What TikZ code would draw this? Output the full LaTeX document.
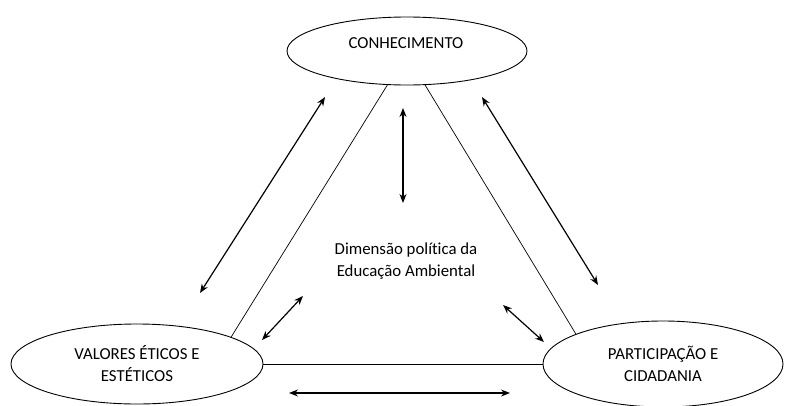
\documentclass[tikz,border=0pt]{standalone}
\usepackage{fontspec}
\setmainfont[Ligatures=NoCommon]{Carlito}
\usepackage{tikz}
\usetikzlibrary{shapes.geometric,arrows.meta}

\tikzset{
	campo/.style={draw, ellipse, line width=0.9pt, inner sep=0pt, align=center, font=\fontsize{16.8}{22}\selectfont},
	rotulo/.style={align=center, inner sep=0pt, font=\fontsize{16.8}{22.5}\selectfont},
	lado/.style={line width=0.7pt},
	seta/.style={line width=1.2pt, {Stealth[length=9pt,width=7pt]}-{Stealth[length=9pt,width=7pt]}}
}

\begin{document}
\begin{tikzpicture}[x=1pt,y=-1pt]
				\useasboundingbox (0,0) rectangle (785,405);
				\node[campo, minimum width=240pt, minimum height=68pt] (kn) at (407,51) {};
				\node[rotulo] (kntxt) at (406,43) {CONHECIMENTO};
				\node[campo, minimum width=252pt, minimum height=80pt] (vl) at (137,364) {VALORES ÉTICOS E\\ESTÉTICOS};
				\node[campo, minimum width=240pt, minimum height=86pt] (pc) at (663,364) {PARTICIPAÇÃO E\\CIDADANIA};
				\node[rotulo] (dp) at (406,261) {Dimensão política da\\Educação Ambiental};
				\draw[lado] (kn.240) -- (vl.16);
				\draw[lado] (kn.298) -- (pc.161);
				\draw[lado] (vl.east) -- (pc.west);
				\coordinate (e1) at (200,293);
				\coordinate (e2) at (325,97);
				\coordinate (c1) at (403,108);
				\coordinate (c2) at (403,203);
				\coordinate (d1) at (482,97);
				\coordinate (d2) at (598,285);
				\coordinate (f1) at (303,296);
				\coordinate (f2) at (262,340);
				\coordinate (g1) at (503,305);
				\coordinate (g2) at (544,342);
				\coordinate (h1) at (289,393);
				\coordinate (h2) at (510,393);
				\draw[seta] (e1) -- (e2);
				\draw[seta] (c1) -- (c2);
				\draw[seta] (d1) -- (d2);
				\draw[seta] (f1) -- (f2);
				\draw[seta] (g1) -- (g2);
				\draw[seta] (h1) -- (h2);
			\end{tikzpicture}
\end{document}
